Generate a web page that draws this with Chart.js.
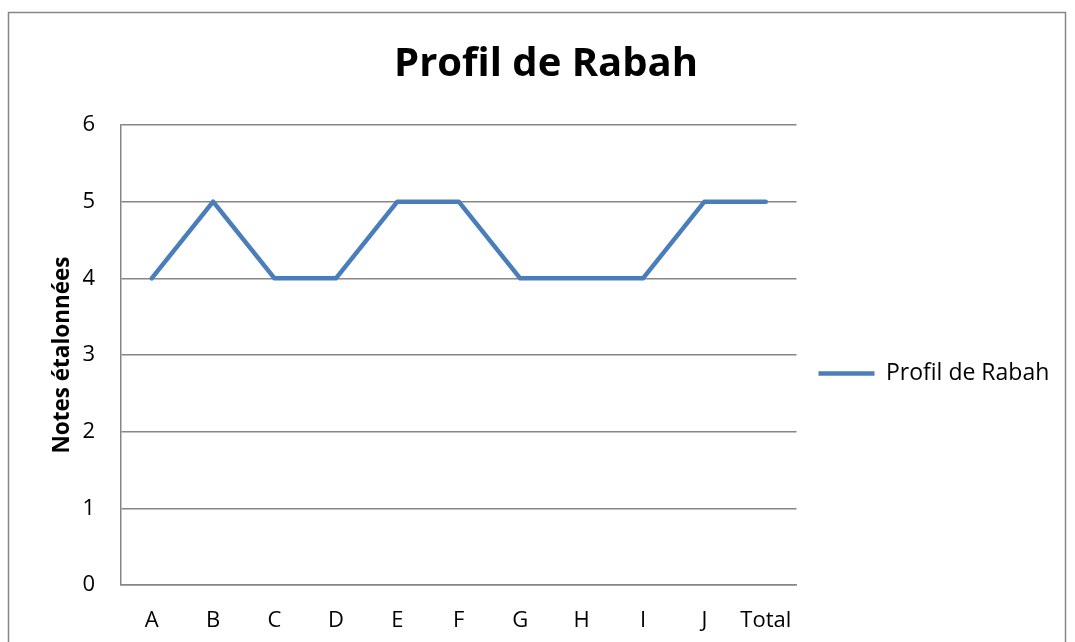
<!DOCTYPE html>
<html>
<head>
<meta charset="utf-8">
<script src="https://cdn.jsdelivr.net/npm/chart.js@4/dist/chart.umd.min.js"></script>
<style>
  html, body { margin: 0; padding: 0; background: #fff; }
  #wrap { width: 1075px; height: 642px; }
</style>
</head>
<body>
<div id="wrap"><canvas id="chart" width="1075" height="642"></canvas></div>
<script>
// Values
const categories = ['A', 'B', 'C', 'D', 'E', 'F', 'G', 'H', 'I', 'J', 'Total'];
const scores = [4, 5, 4, 4, 5, 5, 4, 4, 4, 5, 5];
const seriesName = 'Profil de Rabah';
const yTicks = [0, 1, 2, 3, 4, 5, 6];

const FONT = '"Open Sans", "Noto Sans", sans-serif';

// Outer frame of the chart area, like the spreadsheet chart border
const framePlugin = {
  id: 'frame',
  beforeDraw(chart) {
    const ctx = chart.ctx;
    ctx.save();
    ctx.strokeStyle = '#868686';
    ctx.lineWidth = 1.5;
    ctx.strokeRect(8.5, 12.5, 1057, 640);
    ctx.restore();
  },
  // legend sits a little below the middle of the plot in the original
  afterLayout(chart) {
    if (chart.legend) {
      chart.legend.top += 32;
      chart.legend.bottom += 32;
      chart.legend.left += 12;
      chart.legend.right += 12;
    }
  }
};

new Chart(document.getElementById('chart').getContext('2d'), {
  type: 'line',
  data: {
    labels: categories,
    datasets: [{
      label: seriesName,
      data: scores,
      borderColor: '#4a7ebb',
      backgroundColor: '#4a7ebb',
      borderWidth: 4.5,
      borderJoinStyle: 'round',
      borderCapStyle: 'round',
      pointRadius: 0,
      pointHoverRadius: 0,
      tension: 0,
      fill: false
    }]
  },
  options: {
    responsive: false,
    animation: false,
    layout: { padding: { left: 45, right: 28, top: 41, bottom: 0 } },
    plugins: {
      title: {
        display: true,
        text: seriesName,
        color: '#000',
        font: { family: FONT, size: 40, weight: 'bold' },
        padding: { top: 0, bottom: 36 }
      },
      legend: {
        position: 'right',
        labels: {
          usePointStyle: true,
          pointStyle: 'line',
          pointStyleWidth: 56,
          color: '#000',
          font: { family: FONT, size: 23 },
          padding: 10
        }
      },
      tooltip: { enabled: false }
    },
    scales: {
      x: {
        offset: true,
        grid: { display: false },
        border: { color: '#868686', width: 1.5 },
        ticks: { color: '#000', font: { family: FONT, size: 22 }, padding: 15 },
        afterFit(scale) { scale.height = 57; }
      },
      y: {
        min: 0,
        max: 6,
        afterBuildTicks(scale) { scale.ticks = yTicks.map(v => ({ value: v })); },
        afterFit(scale) { scale.width = 76; },
        grid: { color: '#868686', lineWidth: 1.5, drawTicks: false },
        border: { color: '#868686', width: 1.5 },
        title: {
          display: true,
          text: 'Notes étalonnées',
          color: '#000',
          font: { family: FONT, size: 22.5, weight: 'bold' },
          padding: { bottom: 7 }
        },
        ticks: { color: '#000', font: { family: FONT, size: 22 }, padding: 26 }
      }
    }
  },
  plugins: [framePlugin]
});
</script>
</body>
</html>
